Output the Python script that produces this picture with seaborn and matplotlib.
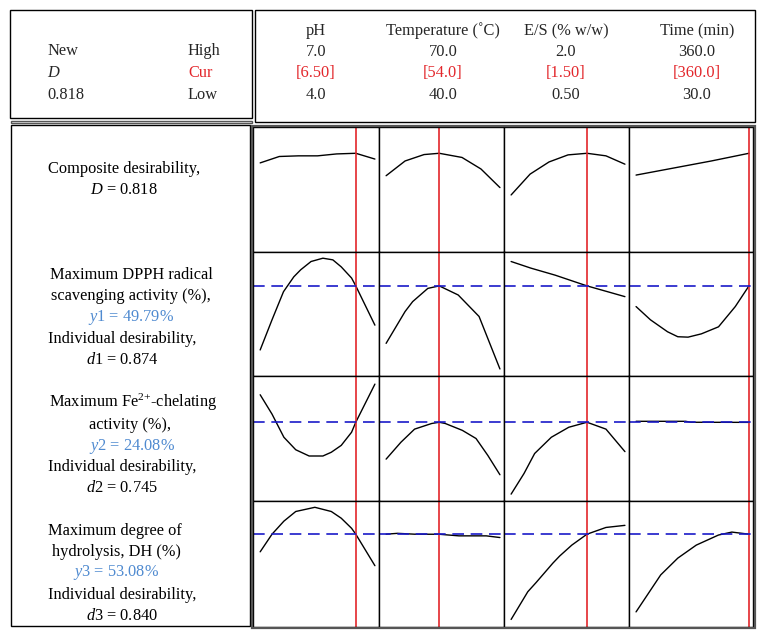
import numpy as np
import pandas as pd
import matplotlib
matplotlib.use("Agg")
import matplotlib.pyplot as plt
import seaborn as sns
from matplotlib.patches import Rectangle

# factors (columns) and their settings
factors = ["pH", "Temperature (˚C)", "E/S (% w/w)", "Time (min)"]
f_high = [7.0, 70.0, 2.0, 360.0]
f_low = [4.0, 40.0, 0.5, 30.0]
f_cur = [6.5, 54.0, 1.5, 360.0]
high_txt = ["7.0", "70.0", "2.0", "360.0"]
cur_txt = ["[6.50]", "[54.0]", "[1.50]", "[360.0]"]
low_txt = ["4.0", "40.0", "0.50", "30.0"]

# responses (rows): composite D, y1 DPPH, y2 Fe-chelating, y3 DH
resp_target = [None, 49.79, 24.08, 53.08]
resp_ylim = [(0.51, 0.90), (28.0, 58.0), (11.5, 31.5), (31.0, 61.0)]

# composite desirability curves
d_ph_x = [4.0, 4.5, 5.0, 5.5, 6.0, 6.5, 7.0]
d_ph_y = [0.788, 0.808, 0.810, 0.810, 0.816, 0.818, 0.800]
d_temp_x = [40, 45, 50, 54, 60, 65, 70]
d_temp_y = [0.748, 0.794, 0.814, 0.818, 0.805, 0.769, 0.711]
d_es_x = [0.5, 0.75, 1.0, 1.25, 1.5, 1.75, 2.0]
d_es_y = [0.688, 0.753, 0.791, 0.813, 0.818, 0.810, 0.784]
d_time_x = [30, 140, 250, 360]
d_time_y = [0.750, 0.772, 0.794, 0.818]

# DPPH radical scavenging activity
y1_ph_x = [4.0, 4.31, 4.61, 4.88, 5.06, 5.33, 5.64, 5.90, 6.12, 6.39, 6.5, 7.0]
y1_ph_y = [34.3, 41.6, 48.4, 52.0, 53.7, 55.7, 56.5, 56.1, 54.4, 51.7, 49.8, 40.3]
y1_temp_x = [40, 45, 47, 51, 54, 59, 64.5, 70]
y1_temp_y = [35.9, 43.6, 46.0, 49.2, 49.8, 47.6, 42.4, 29.7]
y1_es_x = [0.5, 0.76, 1.08, 1.5, 1.77, 2.0]
y1_es_y = [55.7, 54.1, 52.4, 49.8, 48.4, 47.2]
y1_time_x = [30, 72, 122, 152, 182, 221, 271, 320, 360]
y1_time_y = [44.8, 41.6, 38.7, 37.5, 37.4, 38.2, 39.9, 44.8, 49.8]

# Fe2+-chelating activity
y2_ph_x = [4.0, 4.31, 4.62, 4.93, 5.28, 5.64, 5.86, 6.12, 6.39, 6.5, 7.0]
y2_ph_y = [28.5, 25.4, 21.7, 19.7, 18.7, 18.7, 19.3, 20.4, 22.5, 24.1, 30.2]
y2_temp_x = [40, 43.9, 47.5, 52.0, 54, 55.6, 60.1, 63.7, 66.8, 70]
y2_temp_y = [18.2, 20.9, 23.0, 23.9, 24.1, 23.9, 22.8, 21.5, 18.8, 15.7]
y2_es_x = [0.5, 0.67, 0.81, 1.03, 1.26, 1.5, 1.75, 2.0]
y2_es_y = [12.6, 15.9, 19.1, 21.7, 23.3, 24.1, 23.0, 19.4]
y2_time_x = [30, 175, 190, 360]
y2_time_y = [24.25, 24.25, 24.1, 24.08]

# degree of hydrolysis
y3_ph_x = [4.0, 4.31, 4.62, 4.93, 5.43, 5.86, 6.12, 6.39, 6.5, 7.0]
y3_ph_y = [48.9, 53.1, 56.2, 58.5, 59.5, 58.5, 56.9, 54.5, 53.1, 45.6]
y3_temp_x = [40, 43, 47.5, 54, 59.2, 66.4, 70]
y3_temp_y = [53.1, 53.3, 53.1, 53.08, 52.7, 52.7, 52.3]
y3_es_x = [0.5, 0.72, 0.83, 1.05, 1.14, 1.30, 1.5, 1.75, 2.0]
y3_es_y = [32.8, 39.4, 41.6, 46.2, 47.9, 50.5, 53.1, 54.7, 55.2]
y3_time_x = [30, 102, 152, 206, 271, 310, 360]
y3_time_y = [34.6, 43.4, 47.4, 50.5, 52.9, 53.6, 53.1]

curves = [
    [(d_ph_x, d_ph_y), (d_temp_x, d_temp_y), (d_es_x, d_es_y), (d_time_x, d_time_y)],
    [(y1_ph_x, y1_ph_y), (y1_temp_x, y1_temp_y), (y1_es_x, y1_es_y), (y1_time_x, y1_time_y)],
    [(y2_ph_x, y2_ph_y), (y2_temp_x, y2_temp_y), (y2_es_x, y2_es_y), (y2_time_x, y2_time_y)],
    [(y3_ph_x, y3_ph_y), (y3_temp_x, y3_temp_y), (y3_es_x, y3_es_y), (y3_time_x, y3_time_y)],
]

sns.set_style("white")
plt.rcParams["font.family"] = ["Liberation Serif", "DejaVu Serif"]
plt.rcParams["mathtext.fontset"] = "custom"
plt.rcParams["mathtext.rm"] = "Liberation Serif"
plt.rcParams["mathtext.it"] = "Liberation Serif:italic"

W, H = 768, 639
fig = plt.figure(figsize=(7.68, 6.39), dpi=100)


def fx(x):
    return x / W


def fy(y):
    return 1 - y / H


RED = "#e3262b"
BLUE_TXT = "#4f8ad0"
FS = 11.8

# frames
def frame(x0, y0, x1, y1, color="black", lw=1.0):
    fig.patches.append(Rectangle((fx(x0), fy(y1)), fx(x1) - fx(x0), fy(y0) - fy(y1),
                                 transform=fig.transFigure, fill=False, ec=color, lw=lw))

frame(10, 10, 252, 118)
frame(11, 121, 252, 123, color="#555555", lw=1.0)
frame(255, 10, 755, 122)
frame(11, 125, 250, 626)
frame(252, 126, 755, 628, color="#555555", lw=1.6)

# header text
fig.text(fx(47), fy(51), "New", fontsize=FS, va="center")
fig.text(fx(47), fy(73), r"$\it{D}$", fontsize=FS, va="center")
fig.text(fx(47), fy(95), "0.818", fontsize=FS, va="center")
fig.text(fx(188), fy(51), "High", fontsize=FS, va="center")
fig.text(fx(188), fy(73), "Cur", fontsize=FS, va="center", color=RED)
fig.text(fx(188), fy(95), "Low", fontsize=FS, va="center")

head_x = [316, 443, 566, 697]
for i in range(4):
    fig.text(fx(head_x[i]), fy(31), factors[i], fontsize=FS, ha="center", va="center")
    fig.text(fx(head_x[i]), fy(52), high_txt[i], fontsize=FS, ha="center", va="center")
    fig.text(fx(head_x[i]), fy(73), cur_txt[i], fontsize=FS, ha="center", va="center", color=RED)
    fig.text(fx(head_x[i]), fy(95), low_txt[i], fontsize=FS, ha="center", va="center")

# left labels
left_lines = [
    (124, 169, "Composite desirability,", "black"),
    (124, 190, r"$\it{D}$ = 0.818", "black"),
    (131, 275, "Maximum DPPH radical", "black"),
    (131, 296, "scavenging activity (%),", "black"),
    (131, 317, r"$\it{y}$1 = 49.79%", BLUE_TXT),
    (122, 339, "Individual desirability,", "black"),
    (122, 360, r"$\it{d}$1 = 0.874", "black"),
    (133, 402, r"Maximum Fe$^{\text{2+}}$-chelating", "black"),
    (130, 425, "activity (%),", "black"),
    (132, 446, r"$\it{y}$2 = 24.08%", BLUE_TXT),
    (122, 467, "Individual desirability,", "black"),
    (122, 488, r"$\it{d}$2 = 0.745", "black"),
    (115, 531, "Maximum degree of", "black"),
    (116, 552, "hydrolysis, DH (%)", "black"),
    (116, 573, r"$\it{y}$3 = 53.08%", BLUE_TXT),
    (122, 595, "Individual desirability,", "black"),
    (122, 616, r"$\it{d}$3 = 0.840", "black"),
]
for x, y, s, c in left_lines:
    fig.text(fx(x), fy(y), s, fontsize=FS, ha="center", va="center", color=c)

# panels
row_b = [127, 252, 376, 501, 627]
col_b = [253, 379, 504, 629, 753]
for r in range(4):
    for c in range(4):
        x0, x1 = col_b[c], col_b[c + 1]
        y0, y1 = row_b[r], row_b[r + 1]
        ax = fig.add_axes([fx(x0), fy(y1), fx(x1) - fx(x0), fy(y0) - fy(y1)])
        xs, ys = curves[r][c]
        df = pd.DataFrame({"x": xs, "y": ys})
        sns.lineplot(data=df, x="x", y="y", ax=ax, color="black", lw=1.0,
                     sort=False, estimator=None)
        rng = f_high[c] - f_low[c]
        ax.set_xlim(f_low[c] - 7 / 112 * rng, f_high[c] + 4 / 112 * rng)
        ax.set_ylim(*resp_ylim[r])
        ax.axvline(f_cur[c], color=RED, lw=1.2)
        if resp_target[r] is not None:
            ax.axhline(resp_target[r], color="#1a1ac8", lw=1.2, dashes=(7, 4))
        ax.set_xticks([])
        ax.set_yticks([])
        ax.set_xlabel("")
        ax.set_ylabel("")
        for sp in ax.spines.values():
            sp.set_color("black")
            sp.set_linewidth(1.0)

fig.savefig("out.png", dpi=100)
